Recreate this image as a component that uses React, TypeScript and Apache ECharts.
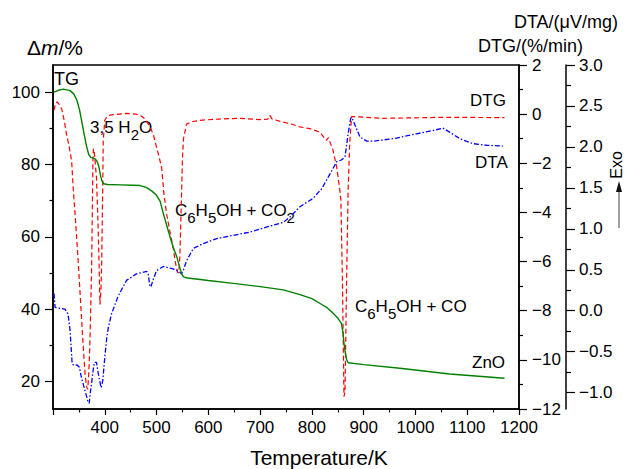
import React, { useEffect, useRef } from "react";
import * as echarts from "echarts";

// ---------------- data ----------------
const tgTemp = [302, 310, 320, 333, 340, 346, 351, 355, 360, 365, 369, 373, 378, 382, 386, 389, 392, 395, 398, 405, 430, 455, 468, 480, 490, 500, 507, 513, 519, 526, 532, 539, 545, 549, 552, 560, 600, 648, 700, 745, 777, 800, 815, 830, 841, 850, 857, 860, 862, 864, 867, 870, 900, 970, 1066, 1172];
const tgMass = [100.1, 100.6, 100.9, 100.5, 99.6, 97.9, 95.3, 92.4, 88.5, 85.0, 82.8, 82.0, 81.8, 81.5, 80.6, 79.2, 76.8, 75.3, 74.7, 74.5, 74.4, 74.3, 74.2, 73.7, 72.8, 71.5, 69.8, 66.5, 63.5, 60.0, 57.2, 54.5, 51.4, 49.6, 48.9, 48.6, 47.9, 47.1, 46.2, 45.3, 44.0, 42.9, 41.6, 40.3, 38.8, 37.5, 36.0, 33.5, 30.5, 28.3, 26.0, 25.1, 24.6, 23.6, 22.0, 20.8];

const dtgTemp = [302, 305, 308, 312, 317, 322, 326, 331, 336, 339, 344, 349, 354, 358.5, 362, 365, 367, 369, 371, 373, 374.7, 376, 377, 378, 380, 384, 387, 389, 390.7, 392.5, 394, 396, 397, 400, 405, 410, 442, 460, 468, 478, 487, 494, 500, 505, 510, 514, 519.5, 526, 532, 537, 541, 543, 545, 548, 550, 552, 558, 570, 584, 620, 661, 700, 715, 719, 723, 740, 760, 777, 796, 815, 828, 832, 836, 841, 848, 854, 856, 859, 862, 864, 867, 870, 873, 876.6, 883, 937, 1000, 1053, 1172];
const dtgRate = [0.16, 0.45, 0.5, 0.4, 0.2, -0.3, -0.8, -1.3, -1.9, -3.0, -4.5, -6.1, -7.9, -9.5, -10.6, -11.1, -11.2, -10.6, -9.5, -7.8, -6.1, -3.8, -2.0, -1.4, -1.6, -2.6, -4.5, -6.1, -7.75, -7.2, -6.1, -3.0, -1.1, -0.25, -0.08, -0.04, 0.03, 0.0, -0.04, -0.2, -0.5, -0.85, -1.35, -1.75, -2.2, -3.2, -4.07, -4.8, -5.44, -6.1, -6.45, -6.45, -5.8, -3.5, -1.8, -1.0, -0.4, -0.3, -0.25, -0.2, -0.17, -0.22, -0.2, -0.05, -0.2, -0.3, -0.4, -0.52, -0.59, -0.73, -1.07, -0.95, -1.2, -1.48, -2.16, -3.1, -3.5, -6.8, -11.5, -11.3, -6.8, -3.1, -1.2, -0.1, -0.1, -0.17, -0.15, -0.13, -0.14];

const dtaTemp = [302, 304, 313, 323, 329, 333, 337, 341, 346, 351, 355, 362, 368, 370, 372, 375, 378, 380, 384, 387, 389, 393, 396, 400, 404, 407, 413, 420, 426, 442, 461, 481, 484, 487, 489, 493, 500, 513, 532, 545, 548, 552, 558, 571, 590, 616, 648, 680, 712, 745, 757, 777, 802, 819, 835, 848, 857, 864, 870, 875, 877, 883, 893, 906, 918, 957, 1002, 1034, 1053, 1066, 1086, 1111, 1137, 1169];
const dtaSignal = [0.21, 0.04, 0.03, 0.02, -0.04, -0.24, -0.65, -0.67, -0.66, -0.69, -0.82, -0.98, -1.12, -1.13, -1.0, -0.86, -0.7, -0.63, -0.63, -0.75, -0.82, -0.94, -0.86, -0.57, -0.32, -0.2, -0.04, 0.08, 0.18, 0.37, 0.45, 0.48, 0.45, 0.3, 0.29, 0.37, 0.49, 0.54, 0.51, 0.47, 0.45, 0.5, 0.61, 0.76, 0.82, 0.88, 0.92, 0.96, 1.02, 1.08, 1.14, 1.27, 1.37, 1.49, 1.67, 1.82, 1.84, 1.88, 2.16, 2.35, 2.36, 2.27, 2.12, 2.07, 2.07, 2.10, 2.16, 2.2, 2.23, 2.18, 2.1, 2.04, 2.02, 2.01];

const tgTicks = [20, 40, 60, 80, 100];
const tgMinorTicks = [30, 50, 70, 90];
const dtaTicks = [-1, -0.5, 0, 0.5, 1, 1.5, 2, 2.5, 3];
const dtaMinorTicks = [-0.75, -0.25, 0.25, 0.75, 1.25, 1.75, 2.25, 2.75];

const zip = (xs: number[], ys: number[]) => xs.map((x, i) => [x, ys[i]]);

const FONT = "'Liberation Sans', Arial, Helvetica, sans-serif";

let measureCtx: CanvasRenderingContext2D | null = null;
function measure(t: string, size: number, italic = false) {
  if (!measureCtx) measureCtx = document.createElement("canvas").getContext("2d");
  if (!measureCtx) return t.length * size * 0.55;
  measureCtx.font = `${italic ? "italic " : ""}${size}px ${FONT}`;
  return measureCtx.measureText(t).width;
}

type Part = { t: string; sub?: boolean; italic?: boolean };
function richText(x: number, y: number, parts: Part[], size = 17, subSize = 14, dy = 6) {
  const els: any[] = [];
  let cx = x;
  for (const p of parts) {
    const fs = p.sub ? subSize : size;
    els.push({
      type: "text",
      x: cx,
      y: p.sub ? y + dy : y,
      silent: true,
      style: {
        text: p.t,
        fontSize: fs,
        fontFamily: FONT,
        fontStyle: p.italic ? "italic" : "normal",
        fill: "#000",
        align: "left",
        verticalAlign: "middle",
        textAlign: "left",
        textVerticalAlign: "middle",
      },
    });
    cx += measure(p.t, fs, !!p.italic);
  }
  return els;
}

function txt(x: number, y: number, text: string, size: number, align = "left", extra: any = {}) {
  return {
    type: "text",
    x,
    y,
    silent: true,
    ...extra,
    style: {
      text,
      fontSize: size,
      fontFamily: FONT,
      fill: "#000",
      align,
      verticalAlign: "middle",
      textAlign: align,
      textVerticalAlign: "middle",
    },
  };
}

const minus = (s: string) => s.replace("-", "\u2212");

export default function App() {
  const ref = useRef<HTMLDivElement>(null);
  useEffect(() => {
    if (!ref.current) return;
    const chart = echarts.init(ref.current, undefined, { renderer: "svg" });
    const axisLine = { show: true, onZero: false, lineStyle: { color: "#000", width: 1.5 } };
    const tickStyle = { color: "#000", width: 1.2 };
    const labelBase = { color: "#000", fontSize: 17, fontFamily: FONT };
    const tgMin = 12.3, tgMax = 107.6;
    const dtaMin = -1.2, dtaMax = 3.0;

    chart.setOption({
      animation: false,
      backgroundColor: "#fff",
      grid: { left: 53, right: 106, top: 65, bottom: 60, show: true, borderColor: "#000", borderWidth: 1.5, backgroundColor: "transparent" },
      xAxis: {
        type: "value",
        min: 300,
        max: 1200,
        interval: 100,
        axisLine,
        axisTick: { show: true, length: 6, lineStyle: tickStyle },
        minorTick: { show: true, splitNumber: 2, length: 3.5, lineStyle: tickStyle },
        splitLine: { show: false },
        minorSplitLine: { show: false },
        axisLabel: { ...labelBase, margin: 10, showMinLabel: false, formatter: (v: number) => (v === 300 ? "" : String(v)) },
      },
      yAxis: [
        {
          type: "value",
          position: "left",
          min: tgMin,
          max: tgMax,
          axisLine,
          axisTick: { show: true, length: 8, lineStyle: tickStyle, customValues: tgTicks },
          splitLine: { show: false },
          axisLabel: { ...labelBase, margin: 13, customValues: tgTicks },
        },
        {
          type: "value",
          position: "right",
          min: -12,
          max: 2,
          interval: 2,
          axisLine,
          axisTick: { show: true, length: 8, lineStyle: tickStyle },
          minorTick: { show: true, splitNumber: 2, length: 4, lineStyle: tickStyle },
          splitLine: { show: false },
          minorSplitLine: { show: false },
          axisLabel: { ...labelBase, margin: 13, formatter: (v: number) => minus(String(v)) },
        },
        {
          type: "value",
          position: "right",
          offset: 47,
          min: dtaMin,
          max: dtaMax,
          axisLine,
          axisTick: { show: true, length: 9, lineStyle: tickStyle, customValues: dtaTicks },
          splitLine: { show: false },
          axisLabel: { ...labelBase, margin: 13, customValues: dtaTicks, formatter: (v: number) => minus(v.toFixed(1)) },
        },
        {
          type: "value",
          position: "left",
          min: tgMin,
          max: tgMax,
          axisLine: { show: false },
          axisTick: { show: true, length: 3.5, lineStyle: tickStyle, customValues: tgMinorTicks },
          splitLine: { show: false },
          axisLabel: { show: false },
        },
        {
          type: "value",
          position: "right",
          offset: 47,
          min: dtaMin,
          max: dtaMax,
          axisLine: { show: false },
          axisTick: { show: true, length: 5, lineStyle: tickStyle, customValues: dtaMinorTicks },
          splitLine: { show: false },
          axisLabel: { show: false },
        },
      ],
      series: [
        {
          name: "DTG",
          type: "line",
          yAxisIndex: 1,
          data: zip(dtgTemp, dtgRate),
          showSymbol: false,
          symbol: "none",
          lineStyle: { color: "#ff0000", width: 1.2, type: [5, 3] },
          z: 3,
        },
        {
          name: "DTA",
          type: "line",
          yAxisIndex: 2,
          data: zip(dtaTemp, dtaSignal),
          showSymbol: false,
          symbol: "none",
          lineStyle: { color: "#0000ff", width: 1.3, type: [5, 2, 1.5, 2] },
          z: 3,
        },
        {
          name: "TG",
          type: "line",
          yAxisIndex: 0,
          data: zip(tgTemp, tgMass),
          showSymbol: false,
          symbol: "none",
          lineStyle: { color: "#008000", width: 1.4 },
          z: 4,
        },
      ],
      graphic: [
        ...richText(27, 47, [{ t: "Δ" }, { t: "m", italic: true }, { t: "/%" }], 21),
        txt(618, 22, "DTA/(μV/mg)", 18, "right"),
        txt(583, 46, "DTG/(%/min)", 18, "right"),
        txt(319, 457, "Temperature/K", 21, "center"),
        txt(54, 79, "TG", 18),
        ...richText(90, 127, [{ t: "3,5 H" }, { t: "2", sub: true }, { t: "O" }], 17, 15, 7),
        ...richText(175, 210, [{ t: "C" }, { t: "6", sub: true }, { t: "H" }, { t: "5", sub: true }, { t: "OH + CO" }, { t: "2", sub: true }], 17, 15, 7),
        ...richText(355, 306, [{ t: "C" }, { t: "6", sub: true }, { t: "H" }, { t: "5", sub: true }, { t: "OH + CO" }], 17, 15, 7),
        txt(472, 362, "ZnO", 17),
        txt(470, 100, "DTG", 17),
        txt(475, 162, "DTA", 17),
        txt(616, 165, "Exo", 16, "center", { rotation: Math.PI / 2 }),
        { type: "line", silent: true, shape: { x1: 619, y1: 228, x2: 619, y2: 190 }, style: { stroke: "#888", lineWidth: 1.6 } },
        { type: "polygon", silent: true, shape: { points: [[619, 181], [616, 192], [622, 192]] }, style: { fill: "#111" } },
      ],
    });
    return () => chart.dispose();
  }, []);
  return <div ref={ref} style={{ position: "fixed", left: 0, top: 0, width: 625, height: 469 }} />;
}
